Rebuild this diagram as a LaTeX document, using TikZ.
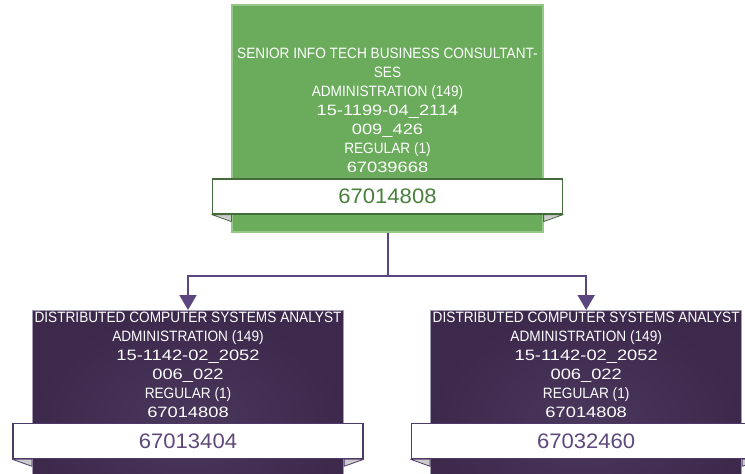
\documentclass[tikz,border=0pt]{standalone}
\usepackage{fontspec}
\setmainfont{Liberation Sans}[FakeStretch=0.91]
\newfontfamily\bannerfont{Liberation Sans}[FakeStretch=1.05]
\newfontfamily\numfont{Liberation Sans}[FakeStretch=1.22]
\usepackage{tikz}
\usetikzlibrary{arrows.meta, positioning}

\definecolor{posgreen}{RGB}{106,172,92}
\definecolor{greenedge}{RGB}{150,198,136}
\definecolor{greentext}{RGB}{72,128,60}
\definecolor{greenline}{RGB}{68,108,58}
\definecolor{pospurple}{RGB}{60,41,76}
\definecolor{purplemid}{RGB}{74,55,92}
\definecolor{purpleedge}{RGB}{165,158,178}
\definecolor{purpletext}{RGB}{94,72,124}
\definecolor{purpleline}{RGB}{78,58,104}
\definecolor{linkpurple}{RGB}{92,70,128}

\begin{document}
\begin{tikzpicture}[x=1pt, y=1pt,
      posbox/.style   = {draw, line width=1.2pt, minimum width=311pt,
                         minimum height=227pt, inner sep=0pt},
      rootbox/.style  = {posbox, fill=posgreen, draw=greenedge},
      childbox/.style = {posbox, draw=purpleedge,
                         inner color=purplemid, outer color=pospurple},
      info/.style     = {text=white, align=center, inner sep=0pt,
                         font=\fontsize{15}{19}\selectfont},
      banner/.style   = {draw, fill=white, line width=1.3pt,
                         minimum width=350pt, minimum height=35pt, inner sep=0pt,
                         font=\bannerfont\fontsize{21}{24}\selectfont},
      fold/.style     = {fill=gray!40, line width=0.8pt, line join=round},
      link/.style     = {draw=linkpurple, line width=2pt,
                         -{Triangle[width=17pt,length=15pt]}},
    ]
    \clip (0,0) rectangle (745,-474);

    % top position
    \node[rootbox] (root) at (387.5,-118.5) {};
    \node[banner, draw=greenline, text=greentext, above=18pt of root.south] (ban0) {67014808};
    \draw[fold, draw=greenline] (ban0.south west) -- (ban0.south west -| root.west)
        -- ++(0,-7) -- cycle;
    \draw[fold, draw=greenline] (ban0.south east) -- (ban0.south east -| root.east)
        -- ++(0,-7) -- cycle;
    \node[info, above=5pt of ban0] (txt0) {SENIOR INFO TECH BUSINESS CONSULTANT-\\SES\\
        ADMINISTRATION (149)\\{\numfont 15-1199-04\_2114}\\{\numfont 009\_426}\\
        REGULAR (1)\\{\numfont 67039668}};

    % reports
    \node[childbox, anchor=north] (lchild) at (188,-310) {};
    \node[childbox, right=86pt of lchild] (rchild) {};

    \node[banner, draw=purpleline, text=purpletext, below=113pt of lchild.north] (ban1) {67013404};
    \node[banner, draw=purpleline, text=purpletext, below=113pt of rchild.north] (ban2) {67032460};
    \foreach \b/\c in {ban1/lchild, ban2/rchild} {
      \draw[fold, draw=purpleline] (\b.south west) -- (\b.south west -| \c.west)
          -- ++(0,-7) -- cycle;
      \draw[fold, draw=purpleline] (\b.south east) -- (\b.south east -| \c.east)
          -- ++(0,-7) -- cycle;
    }
    \node[info, above=5pt of ban1] (txt1) {DISTRIBUTED COMPUTER SYSTEMS ANALYST\\
        ADMINISTRATION (149)\\{\numfont 15-1142-02\_2052}\\{\numfont 006\_022}\\
        REGULAR (1)\\{\numfont 67014808}};
    \node[info, above=5pt of ban2] (txt2) {DISTRIBUTED COMPUTER SYSTEMS ANALYST\\
        ADMINISTRATION (149)\\{\numfont 15-1142-02\_2052}\\{\numfont 006\_022}\\
        REGULAR (1)\\{\numfont 67014808}};

    \draw[link] (root.south) -- ++(0,-43) -| (lchild.north);
    \draw[link] (root.south) -- ++(0,-43) -| (rchild.north);
  \end{tikzpicture}
\end{document}
